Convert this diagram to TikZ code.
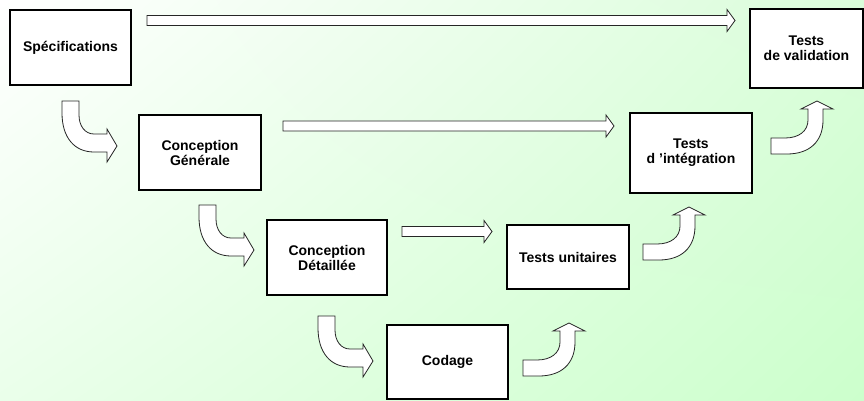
\documentclass[tikz,border=0pt]{standalone}
\usepackage{fontspec}
\setsansfont{Liberation Sans}
\usetikzlibrary{calc,shadings}
\definecolor{fondtr}{RGB}{218,253,218}
\definecolor{fondbl}{RGB}{234,255,234}
\definecolor{fondbr}{RGB}{204,255,204}

% block arrow, straight: from (#1) to tip (#2)
\newcommand{\flecheplate}[2]{%
  \draw[bloc] ($(#1)+(0,-5)$) -- ($(#2)+(-8,-5)$) -- ($(#2)+(-8,-11)$) -- (#2)
    -- ($(#2)+(-8,11)$) -- ($(#2)+(-8,5)$) -- ($(#1)+(0,5)$) -- cycle;}

\tikzset{
  descente/.pic={
    \draw[bloc] (0,0) -- (0,12) .. controls (0,36) and (12,51) .. (32,51) -- (45,51)
      -- (45,61) -- (55,45) -- (45,28) -- (45,33) -- (32,33)
      .. controls (23,33) and (17,25) .. (17,14) -- (17,0) -- cycle;
  },
  remontee/.pic={
    \draw[bloc] (0,0) -- (0,16) -- (16,16) .. controls (38,16) and (52,4) .. (52,-18)
      -- (52,-29) -- (62,-29) -- (46,-37) -- (30,-29) -- (37,-29) -- (37,-18)
      .. controls (37,-7) and (28,0) .. (14,0) -- cycle;
  }
}

\begin{document}
\begin{tikzpicture}[x=1pt, y=-1pt,
    etape/.style={draw=black, line width=1.4pt, fill=white, align=center, inner sep=0pt,
      font=\sffamily\bfseries\fontsize{14}{15}\selectfont},
    bloc/.style={draw=black!85, line width=0.8pt, fill=white}]
    \shade[upper left=white, upper right=fondtr, lower left=fondbl, lower right=fondbr]
      (0,0) rectangle (864,401);
    \useasboundingbox (0,0) rectangle (864,401);

    % Left branch of the V
    \node[etape, minimum width=121, minimum height=75] (spec) at (70.5,47.5) {Spécifications};
    \node[etape, minimum width=122, minimum height=75] (cg) at (200,152.5) {Conception\\Générale};
    \node[etape, minimum width=120, minimum height=75] (cd) at (327,257.5) {Conception\\Détaillée};
    \node[etape, minimum width=121, minimum height=74] (cod) at (447.5,362) {Codage};

    % Right branch of the V
    \node[etape, minimum width=122, minimum height=64] (tu) at (568,257) {Tests unitaires};
    \node[etape, minimum width=122, minimum height=80] (ti) at (691,153) {Tests\\d ’intégration};
    \node[etape, minimum width=113, minimum height=79] (tv) at (806.5,48.5) {Tests\\de validation};

    % Going down
    \pic at (62,101) {descente};
    \pic at (199,205) {descente};
    \pic at (318,316) {descente};

    % Going up
    \pic at (523,360) {remontee};
    \pic at (643,244) {remontee};
    \pic at (771,138) {remontee};

    % Links between levels
    \coordinate (s1a) at (147,20.5);
    \coordinate (s1b) at (735,20.5);
    \coordinate (s2a) at (283,126);
    \coordinate (s2b) at (614,126);
    \coordinate (s3a) at (402,231.5);
    \coordinate (s3b) at (492,231.5);
    \flecheplate{s1a}{s1b}
    \flecheplate{s2a}{s2b}
    \flecheplate{s3a}{s3b}
\end{tikzpicture}
\end{document}
